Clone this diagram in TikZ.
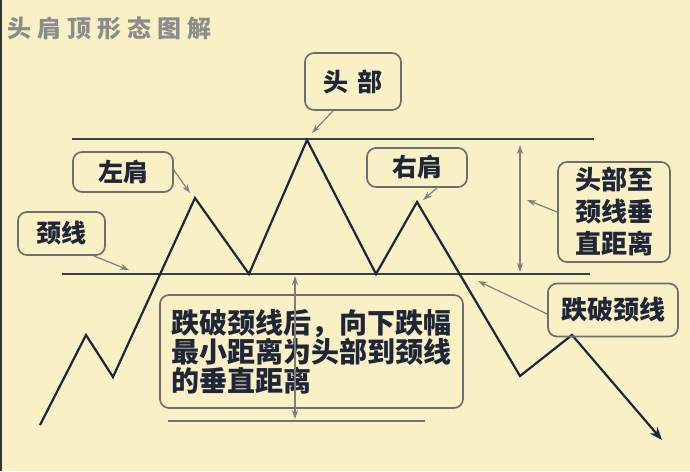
\documentclass[tikz,border=0pt]{standalone}
\usepackage{fontspec}
\newfontfamily\cjk{Noto Sans CJK SC}
\usetikzlibrary{arrows.meta}
\definecolor{bg}{HTML}{FAF0C6}
\definecolor{ink}{HTML}{1E2638}
\definecolor{boxc}{HTML}{6E6E6E}
\definecolor{ptr}{HTML}{7E7E7E}
\definecolor{ptrfill}{HTML}{D8D8D0}
\definecolor{ttl}{HTML}{8C8C8C}
\definecolor{lvl}{HTML}{3A3F4A}
\begin{document}
\begin{tikzpicture}[x=1pt,y=-1pt,
  lbl/.style={draw=boxc, line width=1.7pt, rounded corners=9pt, text=ink, inner sep=0pt, anchor=center},
  lblfont/.style={font=\cjk\bfseries\fontsize{#1}{#1}\selectfont},
  ptrarrow/.style={draw=ptr, line width=1.2pt, -{Stealth[length=9pt,width=6pt,fill=ptrfill]}},
  dblarrow/.style={draw=ptr, line width=1.2pt, {Stealth[length=9pt,width=6pt,fill=ptrfill]}-{Stealth[length=9pt,width=6pt,fill=ptrfill]}},
  price/.style={draw=ink, line width=2.2pt, line join=miter},
  level/.style={draw=lvl, line width=2pt}]
\fill[bg] (0,0) rectangle (690,471);
\useasboundingbox (0,0) rectangle (690,471);
\draw[black!80, line width=2pt] (1,0) -- (1,471);

% title
\node[anchor=west, text=ttl, font=\cjk\bfseries\fontsize{24}{24}\selectfont] (title) at (4,28)
  {头\hspace{6pt}肩\hspace{6pt}顶\hspace{6pt}形\hspace{6pt}态\hspace{6pt}图\hspace{6pt}解};

% levels
\coordinate (topL) at (72,139);  \coordinate (topR) at (594,139);
\coordinate (neckL) at (62,274); \coordinate (neckR) at (590,274);
\coordinate (botL) at (168,421); \coordinate (botR) at (425,421);
\draw[level] (topL) -- (topR);
\draw[level] (neckL) -- (neckR);
\draw[level, draw=black!55] (botL) -- (botR);

% price path
\coordinate (p0) at (40,425);
\coordinate (p1) at (86,335);
\coordinate (p2) at (113,377);
\coordinate (ls) at (195,198);
\coordinate (t1) at (249,274);
\coordinate (hd) at (307,140);
\coordinate (t2) at (376,274);
\coordinate (rs) at (417,202);
\coordinate (p8) at (520,376);
\coordinate (p9) at (572,335);
\coordinate (pe) at (662,440);
\draw[price, -{Stealth[length=13pt,width=10pt]}] (p0) -- (p1) -- (p2) -- (ls) -- (t1) -- (hd) -- (t2) -- (rs) -- (p8) -- (p9) -- (pe);

% labels
\node[lbl, lblfont=25, minimum width=96pt, minimum height=57pt] (hb) at (353,81.5) {头\hspace{9pt}部};
\node[lbl, lblfont=25, minimum width=100pt, minimum height=40pt] (lsb) at (123,172) {左肩};
\node[lbl, lblfont=25, minimum width=100pt, minimum height=39pt] (rsb) at (417,167.5) {右肩};
\node[lbl, lblfont=25, minimum width=87pt, minimum height=43pt] (nb) at (61.5,233.5) {颈线};
\node[lbl, font=\cjk\bfseries\fontsize{26}{32}\selectfont, align=center, minimum width=112pt, minimum height=100pt] (db) at (614,212) {头部至\\颈线垂\\直距离};
\node[lbl, lblfont=26, minimum width=130pt, minimum height=53pt] (bb) at (613,310) {跌破颈线};
\node[lbl, font=\cjk\bfseries\fontsize{28}{29}\selectfont, align=left, text width=281pt, minimum width=303pt, minimum height=113pt] (mb) at (311.5,351.5)
  {跌破颈线后，向下跌幅\\最小距离为头部到颈线\\的垂直距离};

% pointers
\coordinate (hdT) at (312,133);
\coordinate (lsT) at (190,193);
\coordinate (rsT) at (423,200);
\coordinate (nT) at (129,270);
\coordinate (dT) at (527,200);
\coordinate (bT) at (478,281);
\draw[ptrarrow] ([xshift=-20pt]hb.south) -- (hdT);
\draw[ptrarrow] ([yshift=2pt]lsb.east) -- (lsT);
\draw[ptrarrow] ([xshift=20pt]rsb.south) -- (rsT);
\draw[ptrarrow] ([xshift=32pt]nb.south) -- (nT);
\draw[ptrarrow] (db.west) -- (dT);
\draw[ptrarrow] ([yshift=-4pt]bb.west) -- (bT);

% distance arrows
\coordinate (d1a) at (520,145); \coordinate (d1b) at (520,272);
\coordinate (d2a) at (295,276); \coordinate (d2b) at (295,419);
\draw[dblarrow] (d1a) -- (d1b);
\draw[dblarrow] (d2a) -- (d2b);
\end{tikzpicture}
\end{document}
